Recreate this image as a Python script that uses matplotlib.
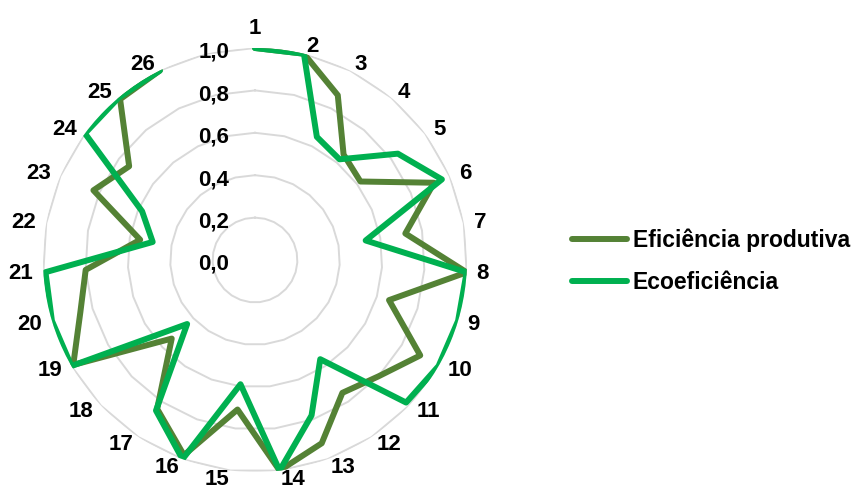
import numpy as np
import matplotlib
matplotlib.use("Agg")
import matplotlib.pyplot as plt
from matplotlib import transforms

plt.rcParams['font.family'] = ['Liberation Sans', 'DejaVu Sans']
plt.rcParams['font.weight'] = 'bold'

# 27 spokes; the last one carries no label and no value
categories = [str(i) for i in range(1, 27)] + [""]

eficiencia_produtiva = [1.00, 1.00, 0.87, 0.65, 0.62, 0.92, 0.72, 1.00, 0.66, 0.90,
                        0.80, 0.75, 0.92, 1.00, 0.71, 0.98, 0.84, 0.54, 0.99, 0.86,
                        0.80, 0.55, 0.83, 0.74, 0.99, 1.00]
ecoeficiencia = [1.00, 1.00, 0.65, 0.62, 0.84, 0.96, 0.53, 1.00, 1.00, 1.00,
                 0.98, 0.56, 0.78, 1.00, 0.59, 1.00, 0.85, 0.44, 1.00, 1.00,
                 0.99, 0.49, 0.58, 1.00, 1.00, 1.00]

radial_ticks = [0.0, 0.2, 0.4, 0.6, 0.8, 1.0]
radial_labels = ["0,0", "0,2", "0,4", "0,6", "0,8", "1,0"]

series_names = ["Eficiência produtiva", "Ecoeficiência"]
series_colors = ["#548235", "#00b050"]

W, H = 861, 488
fig = plt.figure(figsize=(W / 100, H / 100), dpi=100)
cx, cy, R = 255, 260, 212
ax = fig.add_axes([(cx - R) / W, (H - cy - R) / H, 2 * R / W, 2 * R / H],
                  projection='polar')
ax.set_theta_zero_location('N')
ax.set_theta_direction(-1)
ax.set_ylim(0, 1)
ax.grid(False)
ax.spines['polar'].set_visible(False)
ax.set_xticks([])
ax.set_yticks([])
ax.patch.set_alpha(0)

n = len(categories)
theta = np.arange(n) * 2 * np.pi / n

# polygonal gridlines
ring = np.append(theta, theta[0])
for r in radial_ticks[1:]:
    ax.plot(ring, np.full_like(ring, r), color="#d9d9d9", lw=1.4, zorder=1)

# series (the unlabeled last spoke has no value, so the outline stays open)
for vals, name, col in zip([eficiencia_produtiva, ecoeficiencia], series_names, series_colors):
    ax.plot(theta[:len(vals)], vals, color=col, lw=4.3, label=name,
            solid_joinstyle='round', solid_capstyle='round', zorder=3)

# category labels: box corner kept just outside the outer ring
cat_size = 16
cap_px = 0.716 * cat_size * 100 / 72
for t, lab in zip(theta, categories):
    if not lab:
        continue
    s, c = np.sin(t), np.cos(t)
    if abs(s) < 1e-9:
        ha = 'center'
        dy = 22 * c
    else:
        ha = 'left' if s > 0 else 'right'
        dy = 8 * c + 1.5
    tr = transforms.offset_copy(ax.transData, fig=fig, x=10 * s,
                                y=dy - cap_px / 2, units='dots')
    ax.text(t, 1.0, lab, transform=tr, ha=ha, va='baseline',
            fontsize=cat_size, fontweight='bold', color='black')

# radial axis labels, right-aligned just left of the vertical axis
rad_size = 16
rcap = 0.716 * rad_size * 100 / 72
for r, lab in zip(radial_ticks, radial_labels):
    tr = transforms.offset_copy(ax.transData, fig=fig, x=-26, y=-2 - rcap / 2,
                                units='dots')
    ax.text(0, r, lab, transform=tr, ha='right', va='baseline', fontsize=rad_size,
            fontweight='bold', color='black')

fig.legend(loc='center left', bbox_to_anchor=(572 / W, (H - 261.5) / H),
           frameon=False, borderpad=0, borderaxespad=0,
           handlelength=2.4, handletextpad=0.25, labelspacing=0.85,
           prop={'family': 'Liberation Sans', 'weight': 'bold', 'size': 16.5})

fig.savefig("out.png", dpi=100)
